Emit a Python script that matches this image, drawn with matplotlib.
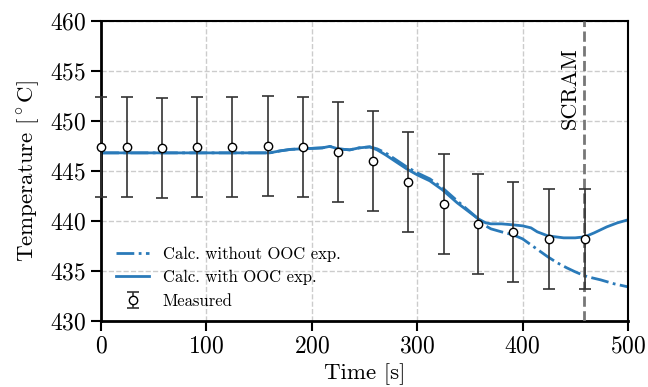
import numpy as np
import matplotlib
matplotlib.use("Agg")
import matplotlib.pyplot as plt

plt.rcParams['font.family'] = ['cmr10', 'DejaVu Serif']
plt.rcParams['mathtext.fontset'] = 'cm'
plt.rcParams['axes.unicode_minus'] = False
plt.rcParams['axes.formatter.use_mathtext'] = True

# calculated, with out-of-core expansion
t_ooc = [0, 160, 170, 180, 190, 200, 210, 217, 225, 236, 245, 255, 262, 270,
         280, 290, 300, 312, 324, 338, 348, 358, 365, 370, 380, 391, 400, 408,
         414, 424, 439, 450, 459, 468, 480, 490, 500]
T_ooc = [446.8, 446.8, 447.0, 447.15, 447.2, 447.25, 447.3, 447.45, 447.2,
         447.1, 447.3, 447.4, 447.1, 446.6, 445.9, 445.2, 444.6, 444.0, 443.1,
         441.8, 441.0, 440.2, 439.8, 439.7, 439.7, 439.6, 439.5, 439.3, 438.9,
         438.5, 438.3, 438.3, 438.4, 438.8, 439.4, 439.8, 440.1]

# calculated, without out-of-core expansion
t_no = [0, 160, 170, 180, 190, 200, 210, 217, 225, 236, 245, 255, 262, 270,
        280, 290, 300, 312, 324, 338, 348, 358, 365, 370, 380, 391, 400, 408,
        416, 424, 433, 442, 450, 459, 466, 474, 487, 500]
T_no = [446.8, 446.8, 447.0, 447.15, 447.2, 447.25, 447.3, 447.45, 447.2,
        447.1, 447.3, 447.4, 447.2, 446.8, 446.1, 445.4, 444.8, 444.2, 443.3,
        442.0, 441.1, 440.2, 439.5, 439.2, 438.9, 438.6, 438.2, 437.6, 437.0,
        436.4, 435.8, 435.3, 434.9, 434.5, 434.3, 434.1, 433.7, 433.4]

# measured
t_meas = [0, 25, 58, 91, 124, 158, 192, 225, 258, 291, 325, 358, 391, 425, 459]
T_meas = [447.4, 447.4, 447.3, 447.4, 447.4, 447.5, 447.4, 446.9, 446.0,
          443.9, 441.7, 439.7, 438.9, 438.2, 438.2]
err_meas = [5.0] * len(t_meas)

t_scram = 458
blue = '#2a7ab9'

fig = plt.figure(figsize=(6.48, 3.87), dpi=100)
ax = fig.add_axes([0.156, 0.171, 0.813, 0.775])

ax.plot(t_no, T_no, color=blue, linestyle='-.', linewidth=2,
        label='Calc. without OOC exp.')
ax.plot(t_ooc, T_ooc, color=blue, linestyle='-', linewidth=2,
        label='Calc. with OOC exp.')
ax.errorbar(t_meas, T_meas, yerr=err_meas, fmt='o', color='#333333',
            markerfacecolor='white', markeredgecolor='black', markersize=6,
            capsize=4, elinewidth=1.2, capthick=1.2, label='Measured', zorder=5,
            clip_on=False)

ax.axvline(t_scram, color='#777777', linestyle='--', linewidth=2, zorder=4)
ax.text(t_scram - 4, 457.4, 'SCRAM', rotation=90, ha='right', va='top',
        fontsize=16)

ax.set_xlim(0, 500)
ax.set_ylim(430, 460)
ax.set_xticks(np.arange(0, 501, 100))
ax.set_yticks(np.arange(430, 461, 5))
ax.grid(True, linestyle='--', color='#cccccc', linewidth=1)
ax.set_axisbelow(True)
ax.tick_params(labelsize=17, direction='out', length=7, width=1.5)
for s in ax.spines.values():
    s.set_linewidth(1.5)
ax.spines['left'].set_linewidth(2)
ax.spines['bottom'].set_linewidth(2)
ax.set_xlabel('Time [s]', fontsize=16.5, labelpad=4)
ax.set_ylabel('Temperature [$^\\circ$C]', fontsize=16.5, labelpad=6)

ax.legend(loc='lower left', frameon=False, fontsize=12,
          bbox_to_anchor=(0.0, -0.01), handlelength=2.0, labelspacing=0.5)

fig.savefig('out.png', dpi=100)
